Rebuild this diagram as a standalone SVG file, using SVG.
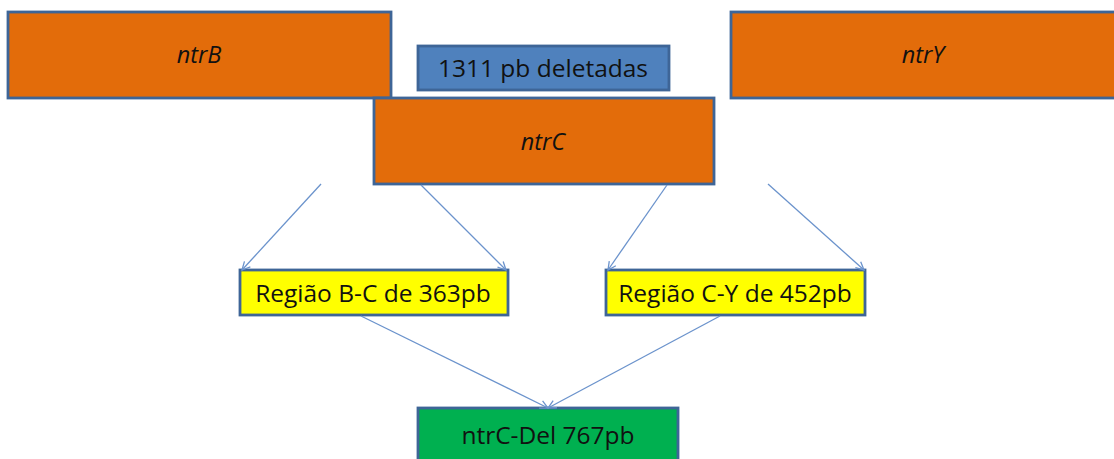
<svg xmlns="http://www.w3.org/2000/svg" width="1114" height="459" viewBox="0 0 1114 459">
  <style>
    .box { stroke: #3e6597; stroke-width: 2.8; }
    .gene { fill: #e36c0a; }
    .del { fill: #4f81bd; }
    .reg { fill: #ffff00; }
    .fin { fill: #00b050; }
    .lbl { font-family: "Open Sans", "Noto Sans", sans-serif; font-size: 24.5px; fill: #111; text-anchor: middle; }
    .it { font-style: italic; font-size: 23.5px; }
    .con { stroke: #6b93cc; stroke-width: 1.3; fill: none; marker-end: url(#v); }
  </style>
  <defs>
    <marker id="v" viewBox="0 0 10 10" refX="9" refY="5" markerWidth="10" markerHeight="10" markerUnits="userSpaceOnUse" orient="auto">
      <path d="M1,1 L9,5 L1,9" fill="none" stroke="#6b93cc" stroke-width="1.3"/>
    </marker>
  </defs>

  <g id="ntrB">
    <rect class="box gene" x="8" y="12" width="383" height="86"/>
    <text class="lbl it" x="199" y="63">ntrB</text>
  </g>
  <g id="ntrY">
    <rect class="box gene" x="731" y="12" width="390" height="86"/>
    <text class="lbl it" x="923" y="63">ntrY</text>
  </g>
  <g id="deleted">
    <rect class="box del" x="418" y="46" width="251" height="44"/>
    <text class="lbl" x="543" y="77">1311 pb deletadas</text>
  </g>
  <g id="ntrC">
    <rect class="box gene" x="374" y="98" width="340" height="86"/>
    <text class="lbl it" x="543" y="150">ntrC</text>
  </g>
  <g id="regionBC">
    <rect class="box reg" x="240" y="270" width="268" height="45"/>
    <text class="lbl" x="373" y="302">Região B-C de 363pb</text>
  </g>
  <g id="regionCY">
    <rect class="box reg" x="606" y="270" width="259" height="45"/>
    <text class="lbl" x="735" y="302">Região C-Y de 452pb</text>
  </g>
  <g id="ntrCDel">
    <rect class="box fin" x="418" y="408" width="260" height="60"/>
    <text class="lbl" x="548" y="444">ntrC-Del 767pb</text>
  </g>

  <g id="connectors">
    <line class="con" x1="321" y1="184" x2="242" y2="270"/>
    <line class="con" x1="421" y1="185" x2="506" y2="270"/>
    <line class="con" x1="667" y1="185" x2="608" y2="270"/>
    <line class="con" x1="768" y1="184" x2="864" y2="270"/>
    <line class="con" x1="361" y1="316" x2="548" y2="408"/>
    <line class="con" x1="720" y1="316" x2="548" y2="408"/>
  </g>
</svg>
